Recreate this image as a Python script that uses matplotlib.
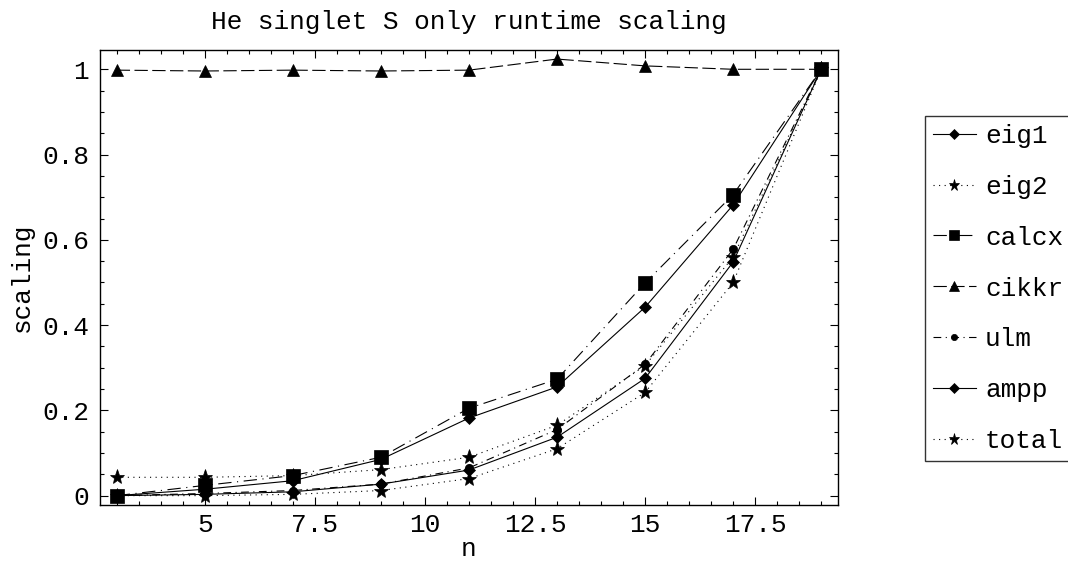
import matplotlib
matplotlib.use("Agg")
import matplotlib.pyplot as plt
from matplotlib.ticker import MultipleLocator, FormatStrFormatter
import numpy as np

# data
n = [3, 5, 7, 9, 11, 13, 15, 17, 19]
eig1 = [0.0, 0.015, 0.035, 0.085, 0.182, 0.255, 0.442, 0.682, 1.0]
eig2 = [0.0, 0.0, 0.003, 0.012, 0.04, 0.11, 0.242, 0.5, 1.0]
calcx = [0.0, 0.024, 0.047, 0.09, 0.205, 0.273, 0.499, 0.706, 1.0]
cikkr = [0.998, 0.996, 0.998, 0.996, 0.998, 1.024, 1.008, 1.0, 1.0]
ulm = [0.0, 0.005, 0.012, 0.027, 0.065, 0.155, 0.308, 0.578, 1.0]
ampp = [0.0, 0.003, 0.009, 0.027, 0.06, 0.137, 0.275, 0.548, 1.0]
total = [0.043, 0.043, 0.047, 0.061, 0.09, 0.165, 0.305, 0.56, 1.0]

labels = ["eig1", "eig2", "calcx", "cikkr", "ulm", "ampp", "total"]
series = [eig1, eig2, calcx, cikkr, ulm, ampp, total]

# line style and marker per series
styles = [
    ("-", "D", 6.5),
    ((0, (1, 4)), "*", 11),
    ((0, (12, 5, 1, 5)), "s", 10),
    ((0, (12, 4)), "^", 9),
    ((0, (7, 4, 1, 4)), "o", 6),
    ("-", "D", 6.5),
    ((0, (1, 4)), "*", 11),
]

plt.rcParams["font.family"] = ["Liberation Mono", "DejaVu Sans Mono"]
fs = 18.8

fig = plt.figure(figsize=(10.68, 5.63), dpi=100)
ax = fig.add_axes([0.0936, 0.103, 0.6910, 0.808])

for y, lab, (ls, mk, ms) in zip(series, labels, styles):
    ax.plot(n, y, color="black", linestyle=ls, linewidth=0.8,
            marker=mk, markersize=ms, markerfacecolor="black",
            markeredgecolor="black", markeredgewidth=0.5, label=lab)

ax.set_xlim(2.62, 19.38)
ax.set_ylim(-0.022, 1.045)

ax.xaxis.set_major_locator(MultipleLocator(2.5))
ax.xaxis.set_minor_locator(MultipleLocator(0.5))
ax.yaxis.set_major_locator(MultipleLocator(0.2))
ax.yaxis.set_minor_locator(MultipleLocator(0.05))
ax.xaxis.set_major_formatter(FormatStrFormatter("%g"))
ax.yaxis.set_major_formatter(FormatStrFormatter("%g"))

ax.tick_params(which="both", direction="in", top=True, right=True,
               labelsize=fs, width=0.8, color="black")
ax.tick_params(which="major", length=6)
ax.tick_params(axis="x", which="major", pad=6)
ax.tick_params(axis="y", which="major", pad=8)
ax.tick_params(which="minor", length=3)
for sp in ax.spines.values():
    sp.set_linewidth(1.0)

ax.set_title("He singlet S only runtime scaling", fontsize=fs, pad=15)
ax.set_xlabel("n", fontsize=fs, labelpad=0)
ax.set_ylabel("scaling", fontsize=fs, labelpad=6)

leg = fig.legend(loc="upper left", bbox_to_anchor=(925 / 1068, 1 - 116 / 563),
                 fontsize=fs, numpoints=1, handlelength=1.65, markerscale=0.75,
                 handletextpad=0.35, labelspacing=1.03, borderpad=0.3,
                 borderaxespad=0.0, frameon=True, fancybox=False)
leg.get_frame().set_edgecolor("black")
leg.get_frame().set_linewidth(1.0)

fig.savefig("out.png", dpi=100)
